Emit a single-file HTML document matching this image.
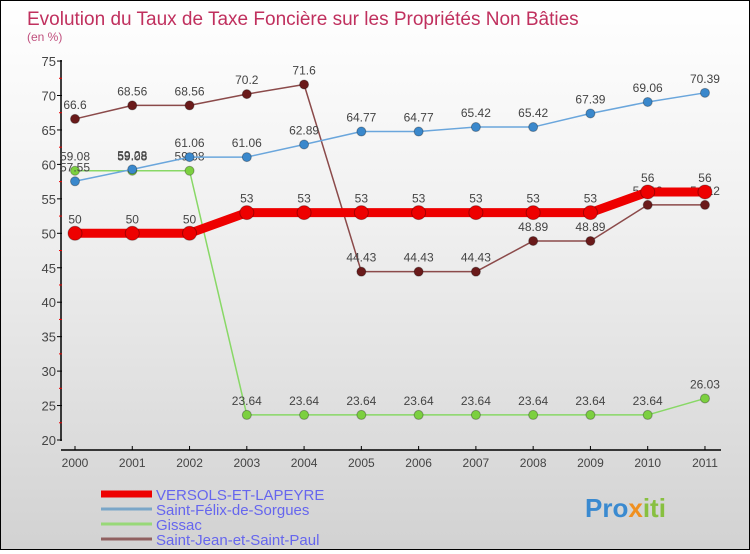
<!DOCTYPE html>
<html><head><meta charset="utf-8"><style>
body{margin:0;width:750px;height:550px;overflow:hidden;font-family:"Liberation Sans",sans-serif}
#wrap{position:relative;width:748px;height:548px;border:1px solid #000;background:linear-gradient(#fff 0%,#f0f0f0 40%,#d2d2d2 100%)}
</style></head><body>
<div id="wrap">
<svg id="chart" width="748" height="548" xmlns="http://www.w3.org/2000/svg">
<text x="26" y="24" font-size="19" fill="#c0305e">Evolution du Taux de Taxe Foncière sur les Propriétés Non Bâties</text>
<text x="26" y="40" font-size="12" fill="#c0507e">(en %)</text>
<g id="axes"></g><g id="series"></g><g id="legend"></g>
</svg></div>
<script>
const years=["2000","2001","2002","2003","2004","2005","2006","2007","2008","2009","2010","2011"];
const yTicks=[20,25,30,35,40,45,50,55,60,65,70,75];
const versols=[50,50,50,53,53,53,53,53,53,53,56,56];
const felix=[57.55,59.28,61.06,61.06,62.89,64.77,64.77,65.42,65.42,67.39,69.06,70.39];
const gissac=[59.08,59.08,59.08,23.64,23.64,23.64,23.64,23.64,23.64,23.64,23.64,26.03];
const jean=[66.6,68.56,68.56,70.2,71.6,44.43,44.43,44.43,48.89,48.89,54.12,54.12];
const NS="http://www.w3.org/2000/svg";
const x=i=>74+i*57.27, y=v=>439-(v-20)*6.89;
function mk(t,a,p){const e=document.createElementNS(NS,t);for(const k in a)e.setAttribute(k,a[k]);p.appendChild(e);return e;}
const ax=document.getElementById('axes');
let l=mk('line',{x1:60,y1:59,x2:60,y2:440,stroke:'#000','stroke-width':1.5},ax);


l=mk('line',{x1:60,y1:449,x2:720,y2:449,stroke:'#000','stroke-width':1.5},ax);


yTicks.forEach(v=>{mk('line',{x1:56,y1:y(v),x2:61,y2:y(v),stroke:'#000'},ax);
 if(v<75)mk('line',{x1:58,y1:y(v+2.5),x2:61,y2:y(v+2.5),stroke:'#e00'},ax);
 const t=mk('text',{x:55,y:y(v)+5,'text-anchor':'end','font-size':13,fill:'#444'},ax);t.textContent=v;
 
 });
years.forEach((yr,i)=>{mk('line',{x1:x(i),y1:445,x2:x(i),y2:449,stroke:'#000'},ax);
 const t=mk('text',{x:x(i),y:466,'text-anchor':'middle','font-size':12,fill:'#444'},ax);t.textContent=yr;
 
 });
const sg=document.getElementById('series');
function series(d,col,dot,w,r,name){const g=mk('g',{},sg);
 
 
 mk('polyline',{points:d.map((v,i)=>x(i)+','+y(v)).join(' '),fill:'none',stroke:col,'stroke-width':w,'stroke-linejoin':'round'},g);
 d.forEach((v,i)=>{const c=mk('circle',{cx:x(i),cy:y(v),r:r,fill:dot,stroke:'rgba(0,0,0,0.3)'},g);
  
  
  const t=mk('text',{x:x(i),y:y(v)-10,'text-anchor':'middle','font-size':12,fill:'#444'},g);t.textContent=v;
  
  });}
series(jean,'#8b4a4a','#6a1a1a',1.5,4.5,'series-saint-jean');
series(gissac,'#88d866','#7cd040',1.5,4.5,'series-gissac');
series(felix,'#6aa6dc','#3a88cc',1.5,4.5,'series-saint-felix');
series(versols,'#ee0000','#ee0000',9,7,'series-versols');
const lg=document.getElementById('legend');
const items=[["VERSOLS-ET-LAPEYRE",'#ee0000',7],["Saint-Félix-de-Sorgues",'#7aa6c8',3],["Gissac",'#98d878',3],["Saint-Jean-et-Saint-Paul",'#906060',3]];
items.forEach((it,i)=>{const yy=493+i*15;
 const r=mk('line',{x1:100,y1:yy,x2:151,y2:yy,stroke:it[1],'stroke-width':it[2]},lg);
 
 
 const t=mk('text',{x:155,y:yy+6,'font-size':15,fill:'#6666ee'},lg);t.textContent=it[0];
 
 });
const p=mk('text',{x:584,y:516,'font-size':26,'font-weight':'bold',fill:'#f09020'},lg);


[['Pro','#3a8ad0'],['x','#f09020'],['iti','#88c040']].forEach(s=>{const ts=mk('tspan',{fill:s[1]},p);ts.textContent=s[0];});
</script>
</body></html>
